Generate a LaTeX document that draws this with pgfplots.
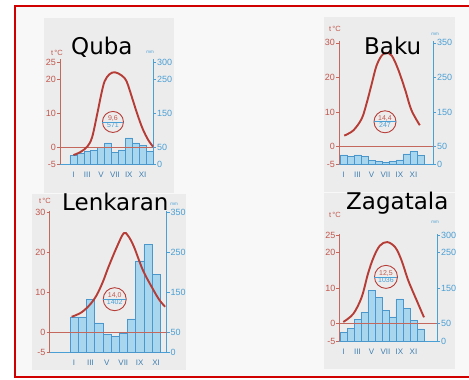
\documentclass[border=0pt]{standalone}
\usepackage{fontspec}
\setmainfont{DejaVu Sans}
\newfontfamily\lab{Liberation Sans}
\usepackage{pgfplots}
\pgfplotsset{compat=1.18}
\definecolor{tred}{HTML}{B63C36}
\definecolor{ared}{HTML}{C4675D}
\definecolor{lred}{HTML}{C2584E}
\definecolor{ablue}{HTML}{4A9FD4}
\definecolor{bfill}{HTML}{A9D6EF}
\definecolor{bedge}{HTML}{4B97CC}
\definecolor{mlab}{HTML}{3F7FB0}
\definecolor{panel}{HTML}{ECECEC}
\definecolor{bg}{HTML}{F8F8F8}
\definecolor{frame}{HTML}{D00000}
\pgfplotsset{
 common/.style={scale only axis, anchor=south west, clip=false},
 mmaxis/.style={common, axis y line*=right, axis x line*=bottom,
   y axis line style={draw=ablue, line width=0.7pt, -},
   x axis line style={draw=ablue, line width=0.6pt, -},
   ytick style={draw=ablue, line width=0.6pt},
   tick align=outside, major tick length=3pt,
   xtick={1,3,5,7,9,11}, xticklabels={I,III,V,VII,IX,XI},
   xtick style={draw=none},
   xticklabel style={font=\lab\fontsize{8}{8}\selectfont, text=mlab, yshift=-1pt},
   yticklabel style={font=\lab\fontsize{9}{9}\selectfont, text=ablue, xshift=-2.5pt},
   ymin=0},
 taxis/.style={common, axis y line*=left, axis x line=none,
   y axis line style={draw=ared, line width=0.8pt, -},
   ytick style={draw=ared, line width=0.6pt},
   tick align=outside, major tick length=3pt,
   yticklabel style={font=\lab\fontsize{9}{9}\selectfont, text=lred, xshift=2.5pt},
   ymin=-5},
 bars/.style={ybar, bar width=1, fill=bfill, draw=bedge, line width=0.6pt},
 curve/.style={tred, line width=1.9pt, smooth, tension=0.55},
 zero/.style={ared, line width=0.8pt},
}
\newcommand{\meancirc}[4]{%
  \node[circle, draw=tred, line width=0.9pt, minimum size=#2, inner sep=0pt] at (axis cs:#1) {};
  \draw[ablue, line width=0.6pt] ([xshift=-0.5*#2]axis cs:#1) -- ([xshift=0.5*#2]axis cs:#1);
  \node[anchor=south, inner sep=0.6pt, text=lred, font=\lab\fontsize{7}{7}\selectfont] at (axis cs:#1) {#3};
  \node[anchor=north, inner sep=0.6pt, text=ablue, font=\lab\fontsize{7}{7}\selectfont] at (axis cs:#1) {#4};
}
\begin{document}
\begin{tikzpicture}
\useasboundingbox (0,0) rectangle (469pt,380pt);
\fill[white] (0,0) rectangle (469pt,380pt);
\fill[bg] (14.5pt,2.5pt) rectangle (469pt,373.5pt);
\fill[panel] (44pt,187pt) rectangle (174pt,362pt);
\fill[panel] (324pt,188pt) rectangle (455pt,363pt);
\fill[panel] (32pt,10pt) rectangle (186pt,186pt);
\fill[panel] (324pt,11pt) rectangle (455pt,187pt);
\draw[frame, line width=2pt] (475pt,373.5pt) -- (14.5pt,373.5pt) -- (14.5pt,2.5pt) -- (475pt,2.5pt);

% ---------- Quba ----------
\begin{axis}[mmaxis, at={(60pt,215.8pt)}, width=93pt, height=104.8pt,
  xmin=-0.945, xmax=12.5, ymax=310,
  ytick={0,50,150,250,300}, yticklabels={0,50,150,250,300}]
\addplot[bars] coordinates {(1,25)(2,31)(3,37)(4,41)(5,50)(6,63)(7,34)(8,42)(9,78)(10,63)(11,56)(12,37)};
\end{axis}
\begin{axis}[taxis, at={(60pt,215.8pt)}, width=93pt, height=104.8pt,
  xmin=-0.945, xmax=12.5, ymax=26,
  ytick={-5,0,10,20,25}, yticklabels={-5,0,10,20,25}]
\addplot[zero] coordinates {(-0.945,0)(12.5,0)};
\addplot[curve] coordinates {(1,-2.3)(2,-1.4)(3,0.2)(3.7,3)(4.45,10)(5,15.5)(5.5,19.5)(6.2,21.6)(7,22.2)(8,21.2)(8.7,19.4)(9.5,14.5)(10.2,10)(11,5.5)(11.8,2.2)(12.5,0.2)};
\meancirc{6.71,7.5}{21pt}{9,6}{571}
\end{axis}

% ---------- Baku ----------
\begin{axis}[mmaxis, at={(339pt,216pt)}, width=94pt, height=123.2pt,
  xmin=0.357, xmax=13.79, ymax=356,
  ytick={0,50,150,250,350}, yticklabels={0,50,150,250,350}]
\addplot[bars] coordinates {(1,26)(2,22)(3,26)(4,21)(5,10)(6,7)(7,5)(8,8)(9,12)(10,29)(11,36)(12,24)};
\end{axis}
\begin{axis}[taxis, at={(339pt,216pt)}, width=94pt, height=123.2pt,
  xmin=0.357, xmax=13.79, ymax=30.6,
  ytick={-5,0,10,20,30}, yticklabels={-5,0,10,20,30}]
\addplot[zero] coordinates {(0.357,0)(13.79,0)};
\addplot[curve] coordinates {(1.1,3.2)(2.4,4.7)(3.6,8.1)(4.3,12.5)(5,17.9)(5.7,23.3)(6.45,26.3)(7.1,27.1)(7.9,26.3)(8.8,22.4)(9.8,16.5)(10.7,10.6)(11.9,6.2)};
\meancirc{6.93,7.2}{22pt}{14,4}{247}
\end{axis}

% ---------- Lenkaran ----------
\begin{axis}[mmaxis, at={(49.5pt,28pt)}, width=117.2pt, height=141.2pt,
  xmin=-2.0, xmax=12.29, ymax=353,
  ytick={0,50,150,250,350}, yticklabels={0,50,150,250,350}]
\addplot[bars] coordinates {(1,87.5)(2,87.5)(3,131)(4,72.5)(5,43)(6,39)(7,46)(8,82.5)(9,227.5)(10,268)(11,194)};
\end{axis}
\begin{axis}[taxis, at={(49.5pt,28pt)}, width=117.2pt, height=141.2pt,
  xmin=-2.0, xmax=12.29, ymax=30.3,
  ytick={-5,0,10,20,30}, yticklabels={-5,0,10,20,30}]
\addplot[zero] coordinates {(-2.0,0)(12.29,0)};
\addplot[curve] coordinates {(0.7,3.8)(1.9,4.9)(3.0,7.0)(3.75,9.2)(4.5,12.5)(5.2,16.3)(6.2,21.2)(7.05,24.7)(7.6,24)(8.3,21.3)(9.4,15.4)(10.7,10.4)(11.4,8.0)(12.1,6.3)};
\meancirc{5.95,8.2}{23pt}{14,0}{1402}
\end{axis}

% ---------- Zagatala ----------
\begin{axis}[mmaxis, at={(339.3pt,38.5pt)}, width=97.7pt, height=107.6pt,
  xmin=0.4, xmax=14.36, ymax=303,
  ytick={0,50,150,250,300}, yticklabels={0,50,150,250,300}]
\addplot[bars] coordinates {(1,26)(2,36.5)(3,62.5)(4,81.7)(5,144)(6,125)(7,86.5)(8,69)(9,120)(10,94)(11,59.6)(12,35.6)};
\end{axis}
\begin{axis}[taxis, at={(339.3pt,38.5pt)}, width=97.7pt, height=107.6pt,
  xmin=0.4, xmax=14.36, ymax=25.3,
  ytick={-5,0,10,20,25}, yticklabels={-5,0,10,20,25}]
\addplot[zero] coordinates {(0.4,0)(14.36,0)};
\addplot[curve] coordinates {(0.97,0.5)(2.4,2.8)(3.6,7.5)(4.5,14.1)(5.3,18.7)(6.2,22)(7.25,23)(8.4,21.5)(9.3,17.8)(10.25,12.2)(11.45,6.6)(12.5,1.8)};
\meancirc{7.07,13.2}{23pt}{12,5}{1036}
\end{axis}

% ---------- unit labels ----------
\begin{scope}[every node/.style={inner sep=0pt}]
\node[text=lred, font=\lab\fontsize{7.5}{7.5}\selectfont] at (57pt,327pt) {t\,°C};
\node[text=lred, font=\lab\fontsize{7.5}{7.5}\selectfont] at (335pt,350.7pt) {t\,°C};
\node[text=lred, font=\lab\fontsize{7.5}{7.5}\selectfont] at (45pt,179.3pt) {t\,°C};
\node[text=lred, font=\lab\fontsize{7.5}{7.5}\selectfont] at (335pt,165pt) {t\,°C};
\node[text=ablue, font=\lab\fontsize{4.5}{5}\selectfont] at (150pt,327.7pt) {mm};
\node[text=ablue, font=\lab\fontsize{4.5}{5}\selectfont] at (435pt,345.7pt) {mm};
\node[text=ablue, font=\lab\fontsize{4.5}{5}\selectfont] at (174pt,176pt) {mm};
\node[text=ablue, font=\lab\fontsize{4.5}{5}\selectfont] at (435pt,157.3pt) {mm};
% ---------- titles ----------
\node[anchor=base west, font=\fontsize{23}{23}\selectfont] at (71pt,325pt) {Quba};
\node[anchor=base west, font=\fontsize{23}{23}\selectfont] at (364pt,325pt) {Baku};
\node[anchor=base west, font=\fontsize{23}{23}\selectfont] at (62pt,169pt) {Lenkaran};
\node[anchor=base west, font=\fontsize{23}{23}\selectfont] at (346pt,170pt) {Zagatala};
\end{scope}
\end{tikzpicture}
\end{document}
